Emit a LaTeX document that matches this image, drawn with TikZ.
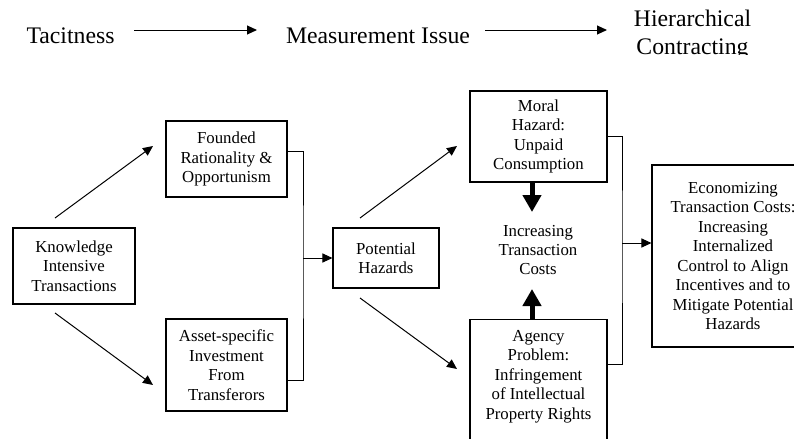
\documentclass[tikz,border=0pt]{standalone}
\usepackage{fontspec}
\setmainfont{Liberation Serif}
\usetikzlibrary{arrows.meta}
\begin{document}
\begin{tikzpicture}[x=0.75pt,y=-0.75pt,
  box/.style={draw, line width=0.8pt, align=center, inner sep=2pt, font=\fontsize{12.6}{14.6}\selectfont},
  lbl/.style={align=center, inner sep=0pt, font=\fontsize{12.6}{14.6}\selectfont},
  toptxt/.style={font=\fontsize{17.8}{21}\selectfont, inner sep=0pt, align=center},
  thinarr/.style={line width=0.75pt, -{Triangle[length=7.5pt,width=6.75pt]}},
  bus/.style={line width=0.75pt},
  thickarr/.style={line width=3.75pt, -{Triangle[length=12.75pt,width=13.5pt]}}]
\clip (0,0) rectangle (794,439);
% top row
\node[toptxt,anchor=base] (T) at (70.5,43) {Tacitness};
\node[toptxt,anchor=base] (Mi) at (378,43) {Measurement Issue};
\begin{scope}
\clip (600,0) rectangle (794,54);
\node[toptxt,anchor=base] (H) at (692.5,55) {Hierarchical\\Contracting};
\end{scope}
\coordinate (t1) at (134,30);
\coordinate (t2) at (257,30);
\coordinate (t3) at (485,30);
\coordinate (t4) at (607,30);
\draw[thinarr] (t1) -- (t2);
\draw[thinarr] (t3) -- (t4);
% boxes
\node[box, minimum width=91.5pt, minimum height=57pt] (K) at (74,266) {Knowledge\\Intensive\\Transactions};
\node[box, minimum width=90.75pt, minimum height=57pt] (F) at (226.5,159) {Founded\\Rationality \&\\Opportunism};
\node[box, minimum width=90.75pt, minimum height=69pt] (A) at (226.5,365) {Asset-specific\\Investment\\From\\Transferors};
\node[box, minimum width=79.5pt, minimum height=45pt] (P) at (386,258) {Potential\\Hazards};
\node[box, minimum width=102.75pt, minimum height=68.25pt] (M) at (538.5,136.5) {Moral\\Hazard:\\Unpaid\\Consumption};
\node[draw, line width=0.8pt, minimum width=102.75pt, minimum height=105.75pt, anchor=north, inner sep=0pt] (G) at (538.5,319) {};
\node[lbl, anchor=base] (Gt) at (538.5,419) {Agency\\Problem:\\Infringement\\of Intellectual\\Property Rights};
\node[box, minimum width=121.5pt, minimum height=136.5pt] (E) at (733,256) {Economizing\\Transaction Costs:\\Increasing\\Internalized\\Control to Align\\Incentives and to\\Mitigate Potential\\Hazards};
\node[lbl] (I) at (538,250) {Increasing\\Transaction\\Costs};
% diagonal arrows
\coordinate (k1) at (55,218);
\coordinate (k2) at (153,146);
\coordinate (k3) at (55,313);
\coordinate (k4) at (153,385);
\coordinate (p1) at (360,218);
\coordinate (p2) at (457,146);
\coordinate (p3) at (360,298);
\coordinate (p4) at (457,369);
\draw[thinarr] (k1) -- (k2);
\draw[thinarr] (k3) -- (k4);
\draw[thinarr] (p1) -- (p2);
\draw[thinarr] (p3) -- (p4);
% buses
\coordinate (b1) at (303,258);
\draw[bus] ([yshift=6pt]F.east) -| (b1) |- ([yshift=-11.25pt]A.east);
\draw[thinarr] (b1) -- (P.west);
\coordinate (b2) at (622,243);
\draw[bus] (M.east) -| (b2) |- ([yshift=-33.75pt]G.north east);
\draw[thinarr] (b2) -- (b2 -| E.west);
% thick arrows
\coordinate (i1) at (532,212);
\coordinate (i2) at (532,289);
\draw[thickarr] (M.south -| i1) -- (i1);
\draw[thickarr] (G.north -| i2) -- (i2);
\end{tikzpicture}
\end{document}
